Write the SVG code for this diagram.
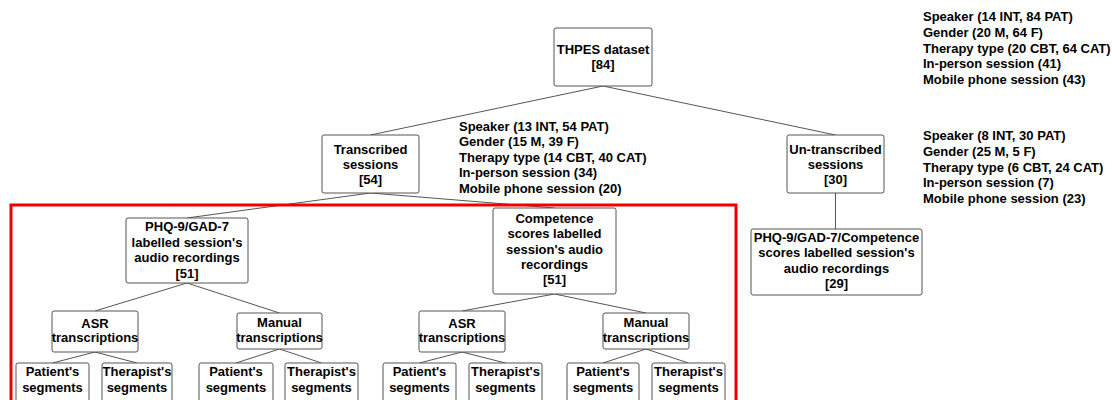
<svg xmlns="http://www.w3.org/2000/svg" width="1112" height="400" viewBox="0 0 1112 400">
<style>
text{font-family:"Liberation Sans",Arial,sans-serif;font-weight:bold;font-size:13px;fill:#000}
.c text{text-anchor:middle}
.b{fill:#fff;stroke:#555;stroke-width:1}
#edges line{stroke:#555;stroke-width:1}
</style>
<rect width="1112" height="400" fill="#fff"/>
<g id="edges">
<line x1="603" y1="86" x2="370.5" y2="135"/>
<line x1="603" y1="86" x2="835.5" y2="135"/>
<line x1="835.5" y1="193" x2="835.5" y2="229"/>
<line x1="370.5" y1="193" x2="187" y2="218"/>
<line x1="370.5" y1="193" x2="554.5" y2="208"/>
<line x1="187" y1="283" x2="95" y2="311"/>
<line x1="187" y1="283" x2="279.5" y2="313"/>
<line x1="554.5" y1="294" x2="462" y2="311"/>
<line x1="554.5" y1="294" x2="646" y2="313"/>
<line x1="95" y1="352" x2="52.5" y2="363"/>
<line x1="95" y1="352" x2="137" y2="363"/>
<line x1="279.5" y1="349" x2="236" y2="363"/>
<line x1="279.5" y1="349" x2="321.5" y2="363"/>
<line x1="462" y1="352" x2="419.5" y2="363"/>
<line x1="462" y1="352" x2="505.5" y2="363"/>
<line x1="646" y1="349" x2="603" y2="363"/>
<line x1="646" y1="349" x2="688.5" y2="363"/>
</g>
<rect id="highlight" x="11" y="205" width="725" height="200" fill="none" stroke="#e00" stroke-width="3"/>
<g id="thpes" class="c"><rect class="b" x="554" y="28" width="98" height="58" rx="2"/><text x="603" y="54">THPES dataset</text><text x="603" y="69">[84]</text></g>
<g id="transcribed" class="c"><rect class="b" x="322" y="135" width="97" height="58" rx="2"/><text x="370.5" y="153.5">Transcribed</text><text x="370.5" y="168.5">sessions</text><text x="370.5" y="183.5">[54]</text></g>
<g id="untranscribed" class="c"><rect class="b" x="787" y="135" width="97" height="58" rx="2"/><text x="835.5" y="153.5">Un-transcribed</text><text x="835.5" y="168.5">sessions</text><text x="835.5" y="183.5">[30]</text></g>
<g id="untrans-audio" class="c"><rect class="b" x="751" y="229" width="171" height="66" rx="2"/><text x="836.5" y="241.5">PHQ-9/GAD-7/Competence</text><text x="836.5" y="257">scores labelled session's</text><text x="836.5" y="272.5">audio recordings</text><text x="836.5" y="288">[29]</text></g>
<g id="phq" class="c"><rect class="b" x="126" y="218" width="122" height="65" rx="2"/><text x="187" y="231">PHQ-9/GAD-7</text><text x="187" y="246.5">labelled session's</text><text x="187" y="262">audio recordings</text><text x="187" y="277.5">[51]</text></g>
<g id="competence" class="c"><rect class="b" x="493" y="208" width="123" height="86" rx="2"/><text x="554.5" y="223">Competence</text><text x="554.5" y="238">scores labelled</text><text x="554.5" y="253.5">session's audio</text><text x="554.5" y="268.5">recordings</text><text x="554.5" y="284">[51]</text></g>
<g id="asr1" class="c"><rect class="b" x="52" y="311" width="86" height="41" rx="2"/><text x="95" y="327.5">ASR</text><text x="95" y="342">transcriptions</text></g>
<g id="manual1" class="c"><rect class="b" x="237" y="313" width="85" height="36" rx="2"/><text x="279.5" y="326.5">Manual</text><text x="279.5" y="341.5">transcriptions</text></g>
<g id="asr2" class="c"><rect class="b" x="419" y="311" width="86" height="41" rx="2"/><text x="462" y="327.5">ASR</text><text x="462" y="342">transcriptions</text></g>
<g id="manual2" class="c"><rect class="b" x="603" y="313" width="86" height="36" rx="2"/><text x="646" y="326.5">Manual</text><text x="646" y="341.5">transcriptions</text></g>
<g id="patient1" class="c"><rect class="b" x="16" y="363" width="73" height="45" rx="2"/><text x="52.5" y="375.5">Patient's</text><text x="52.5" y="391.5">segments</text></g>
<g id="therapist1" class="c"><rect class="b" x="102" y="363" width="70" height="45" rx="2"/><text x="137" y="375.5">Therapist's</text><text x="137" y="391.5">segments</text></g>
<g id="patient2" class="c"><rect class="b" x="199" y="363" width="74" height="45" rx="2"/><text x="236" y="375.5">Patient's</text><text x="236" y="391.5">segments</text></g>
<g id="therapist2" class="c"><rect class="b" x="285" y="363" width="73" height="45" rx="2"/><text x="321.5" y="375.5">Therapist's</text><text x="321.5" y="391.5">segments</text></g>
<g id="patient3" class="c"><rect class="b" x="383" y="363" width="73" height="45" rx="2"/><text x="419.5" y="375.5">Patient's</text><text x="419.5" y="391.5">segments</text></g>
<g id="therapist3" class="c"><rect class="b" x="469" y="363" width="73" height="45" rx="2"/><text x="505.5" y="375.5">Therapist's</text><text x="505.5" y="391.5">segments</text></g>
<g id="patient4" class="c"><rect class="b" x="567" y="363" width="72" height="45" rx="2"/><text x="603" y="375.5">Patient's</text><text x="603" y="391.5">segments</text></g>
<g id="therapist4" class="c"><rect class="b" x="652" y="363" width="73" height="45" rx="2"/><text x="688.5" y="375.5">Therapist's</text><text x="688.5" y="391.5">segments</text></g>
<g id="stats-all"><text x="923" y="21">Speaker (14 INT, 84 PAT)</text><text x="923" y="37">Gender (20 M, 64 F)</text><text x="923" y="52.5">Therapy type (20 CBT, 64 CAT)</text><text x="923" y="68">In-person session (41)</text><text x="923" y="84">Mobile phone session (43)</text></g>
<g id="stats-transcribed"><text x="459" y="130.5">Speaker (13 INT, 54 PAT)</text><text x="459" y="146">Gender (15 M, 39 F)</text><text x="459" y="161.5">Therapy type (14 CBT, 40 CAT)</text><text x="459" y="177">In-person session (34)</text><text x="459" y="193">Mobile phone session (20)</text></g>
<g id="stats-untranscribed"><text x="923" y="140">Speaker (8 INT, 30 PAT)</text><text x="923" y="156">Gender (25 M, 5 F)</text><text x="923" y="171.5">Therapy type (6 CBT, 24 CAT)</text><text x="923" y="187">In-person session (7)</text><text x="923" y="202.5">Mobile phone session (23)</text></g>
</svg>
